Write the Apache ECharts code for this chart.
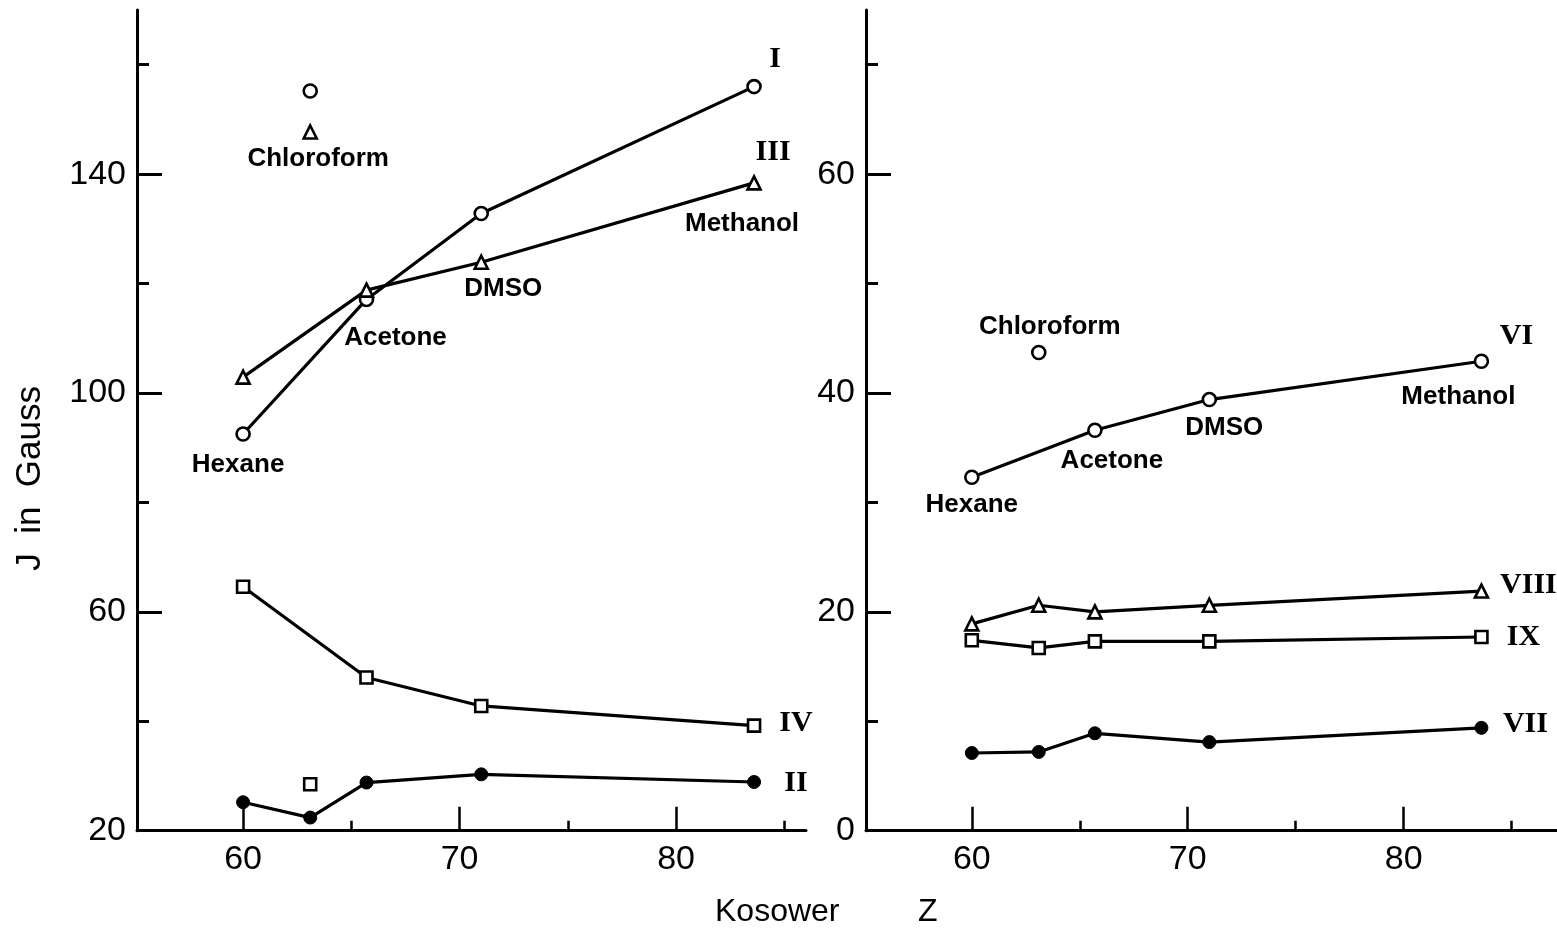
<!DOCTYPE html>
<html>
<head>
<meta charset="utf-8">
<script src="https://cdn.jsdelivr.net/npm/echarts@6/dist/echarts.min.js"></script>
<style>
  html, body { margin: 0; padding: 0; background: #fff; }
  #chart { width: 1557px; height: 932px; }
</style>
</head>
<body>
<div id="chart"></div>
<script>
// ---------------- DATA ----------------
const solvents = ['Hexane', 'Chloroform', 'Acetone', 'DMSO', 'Methanol'];
const kosowerZ = [60.0, 63.1, 65.7, 71.0, 83.6];

// Left panel (J in Gauss)
const J_I   = [92.5, 155.2, 117.1, 132.8, 156.0];
const J_III = [102.9, 147.7, 118.8, 123.9, 138.4];
const J_IV  = [64.6, 28.5, 48.0, 42.8, 39.2];
const J_II  = [25.2, 22.4, 28.8, 30.3, 28.9];

// Right panel (J in Gauss)
const J_VI   = [32.3, 43.7, 36.6, 39.4, 42.9];
const J_VIII = [18.9, 20.6, 20.0, 20.6, 21.9];
const J_IX   = [17.4, 16.7, 17.3, 17.3, 17.7];
const J_VII  = [7.1, 7.2, 8.9, 8.1, 9.4];

// tick values
const leftYLabels = [20, 60, 100, 140];
const leftYMinor = [40, 80, 120, 160];
const rightYLabels = [0, 20, 40, 60];
const rightYMinor = [10, 30, 50, 70];
const xLabels = [60, 70, 80];
const xMinor = [65, 75, 85];

// ---------------- STYLE / LAYOUT ----------------
const SANS = "'Liberation Sans', Arial, sans-serif";
const SERIF = "'Liberation Serif', 'DejaVu Serif', serif";
const BLACK = '#000';

const seriesDefs = [
  { key: 'I',    values: J_I,    grid: 0, connectChloro: false, symbol: 'circle',   filled: false, size: 13 },
  { key: 'III',  values: J_III,  grid: 0, connectChloro: false, symbol: 'triangle', filled: false, size: 13 },
  { key: 'IV',   values: J_IV,   grid: 0, connectChloro: false, symbol: 'rect',     filled: false, size: 12 },
  { key: 'II',   values: J_II,   grid: 0, connectChloro: true,  symbol: 'circle',   filled: true,  size: 13 },
  { key: 'VI',   values: J_VI,   grid: 1, connectChloro: false, symbol: 'circle',   filled: false, size: 13 },
  { key: 'VIII', values: J_VIII, grid: 1, connectChloro: true,  symbol: 'triangle', filled: false, size: 13 },
  { key: 'IX',   values: J_IX,   grid: 1, connectChloro: true,  symbol: 'rect',     filled: false, size: 12 },
  { key: 'VII',  values: J_VII,  grid: 1, connectChloro: true,  symbol: 'circle',   filled: true,  size: 13 }
];

// annotations anchored on data points (series key, solvent index), pixel offsets
const annotations = [
  { s: 'III', i: 1, text: 'Chloroform', dx: 8,   dy: 27,  kind: 'solvent' },
  { s: 'I',   i: 0, text: 'Hexane',     dx: -5,  dy: 31,  kind: 'solvent' },
  { s: 'I',   i: 2, text: 'Acetone',    dx: 29,  dy: 38,  kind: 'solvent' },
  { s: 'III', i: 3, text: 'DMSO',       dx: 22,  dy: 27,  kind: 'solvent' },
  { s: 'III', i: 4, text: 'Methanol',   dx: -12, dy: 41,  kind: 'solvent' },
  { s: 'I',   i: 4, text: 'I',          dx: 21,  dy: -27, kind: 'roman' },
  { s: 'III', i: 4, text: 'III',        dx: 19,  dy: -31, kind: 'roman' },
  { s: 'IV',  i: 4, text: 'IV',         dx: 42,  dy: -2,  kind: 'roman' },
  { s: 'II',  i: 4, text: 'II',         dx: 42,  dy: 1,   kind: 'roman' },
  { s: 'VI',  i: 1, text: 'Chloroform', dx: 11,  dy: -26, kind: 'solvent' },
  { s: 'VI',  i: 0, text: 'Hexane',     dx: 0,   dy: 28,  kind: 'solvent' },
  { s: 'VI',  i: 2, text: 'Acetone',    dx: 17,  dy: 31,  kind: 'solvent' },
  { s: 'VI',  i: 3, text: 'DMSO',       dx: 15,  dy: 28,  kind: 'solvent' },
  { s: 'VI',  i: 4, text: 'Methanol',   dx: -23, dy: 36,  kind: 'solvent' },
  { s: 'VI',  i: 4, text: 'VI',         dx: 35,  dy: -25, kind: 'roman' },
  { s: 'VIII',i: 4, text: 'VIII',       dx: 47,  dy: -6,  kind: 'roman' },
  { s: 'IX',  i: 4, text: 'IX',         dx: 42,  dy: 0,   kind: 'roman' },
  { s: 'VII', i: 4, text: 'VII',        dx: 44,  dy: -4,  kind: 'roman' }
];

// ---------------- BUILD ----------------
function symbolStyle(d) {
  return d.filled
    ? { color: BLACK, borderColor: BLACK, borderWidth: 1, opacity: 1 }
    : { color: '#fff', borderColor: BLACK, borderWidth: 2.6, opacity: 1 };
}

const series = [];
seriesDefs.forEach(d => {
  const idx = [0, 1, 2, 3, 4].filter(i => d.connectChloro || i !== 1)
    .sort((a, b) => kosowerZ[a] - kosowerZ[b]);
  series.push({
    name: d.key,
    type: 'line',
    xAxisIndex: d.grid * 2,
    yAxisIndex: d.grid * 2,
    data: idx.map(i => [kosowerZ[i], d.values[i]]),
    symbol: d.symbol,
    symbolSize: d.size,
    showAllSymbol: true,
    lineStyle: { color: BLACK, width: 3.2 },
    itemStyle: symbolStyle(d),
    z: 3,
    silent: true,
    animation: false
  });
  if (!d.connectChloro) {
    series.push({
      name: d.key + '-chloroform',
      type: 'scatter',
      xAxisIndex: d.grid * 2,
      yAxisIndex: d.grid * 2,
      data: [[kosowerZ[1], d.values[1]]],
      symbol: d.symbol,
      symbolSize: d.size,
      itemStyle: symbolStyle(d),
      z: 3,
      silent: true,
      animation: false
    });
  }
});

// annotation series (invisible anchors on data points, label text only)
[0, 1].forEach(g => {
  const items = annotations
    .filter(a => seriesDefs.find(d => d.key === a.s).grid === g)
    .map(a => {
      const d = seriesDefs.find(dd => dd.key === a.s);
      const isRoman = a.kind === 'roman';
      return {
        value: [kosowerZ[a.i], d.values[a.i]],
        label: {
          show: true,
          formatter: a.text,
          position: 'inside',
          offset: [a.dx, a.dy],
          align: 'center',
          verticalAlign: 'middle',
          color: BLACK,
          opacity: 1,
          textBorderWidth: 0,
          fontFamily: isRoman ? SERIF : SANS,
          fontWeight: 'bold',
          fontSize: isRoman ? 30 : 26
        }
      };
    });
  series.push({
    name: 'annotations-' + g,
    type: 'scatter',
    xAxisIndex: g * 2,
    yAxisIndex: g * 2,
    data: items,
    symbol: 'circle',
    symbolSize: 1,
    itemStyle: { color: 'rgba(255,255,255,0)' },
    z: 5,
    silent: true,
    animation: false
  });
});

const grids = [
  { left: 137, top: 10, width: 669, bottom: 101.3 },
  { left: 866, top: 10, width: 691.2, bottom: 101.3 }
];

function xAxisPair(g, min, max) {
  return [
    {
      type: 'value', gridIndex: g, min: min, max: max, position: 'bottom',
      axisLine: { show: true, onZero: false, lineStyle: { color: BLACK, width: 3 } },
      axisTick: { show: true, inside: true, length: 24, customValues: xLabels, lineStyle: { color: BLACK, width: 2.5 } },
      axisLabel: { show: true, customValues: xLabels, margin: 12, color: BLACK, fontFamily: SANS, fontSize: 34 },
      splitLine: { show: false }
    },
    {
      type: 'value', gridIndex: g, min: min, max: max, position: 'bottom', offset: 0,
      axisLine: { show: false, onZero: false },
      axisTick: { show: true, inside: true, length: 10, customValues: xMinor, lineStyle: { color: BLACK, width: 2.5 } },
      axisLabel: { show: false },
      splitLine: { show: false }
    }
  ];
}
function yAxisPair(g, min, max, labels, minor) {
  return [
    {
      type: 'value', gridIndex: g, min: min, max: max, position: 'left',
      axisLine: { show: true, onZero: false, lineStyle: { color: BLACK, width: 3 } },
      axisTick: { show: true, inside: true, length: 25, customValues: labels.slice(1), lineStyle: { color: BLACK, width: 3 } },
      axisLabel: { show: true, customValues: labels, margin: 11, color: BLACK, fontFamily: SANS, fontSize: 34 },
      splitLine: { show: false }
    },
    {
      type: 'value', gridIndex: g, min: min, max: max, position: 'left', offset: 0,
      axisLine: { show: false, onZero: false },
      axisTick: { show: true, inside: true, length: 12, customValues: minor, lineStyle: { color: BLACK, width: 3 } },
      axisLabel: { show: false },
      splitLine: { show: false }
    }
  ];
}

const option = {
  backgroundColor: '#fff',
  animation: false,
  grid: grids,
  xAxis: [].concat(xAxisPair(0, 55.1, 86.0), xAxisPair(1, 55.1, 87.1)),
  yAxis: [].concat(yAxisPair(0, 20, 170, leftYLabels, leftYMinor), yAxisPair(1, 0, 75, rightYLabels, rightYMinor)),
  series: series,
  graphic: [
    {
      type: 'text', left: 13, top: 386, rotation: Math.PI / 2,
      style: { text: 'J  in  Gauss', fill: BLACK, font: "35px 'Liberation Sans', Arial, sans-serif" }
    },
    {
      type: 'text', left: 715, top: 896,
      style: { text: 'Kosower', fill: BLACK, font: "32px 'Liberation Sans', Arial, sans-serif" }
    },
    {
      type: 'text', left: 918, top: 896,
      style: { text: 'Z', fill: BLACK, font: "32px 'Liberation Sans', Arial, sans-serif" }
    }
  ]
};

const chart = echarts.init(document.getElementById('chart'), null, { renderer: 'canvas' });
chart.setOption(option);
</script>
</body>
</html>
